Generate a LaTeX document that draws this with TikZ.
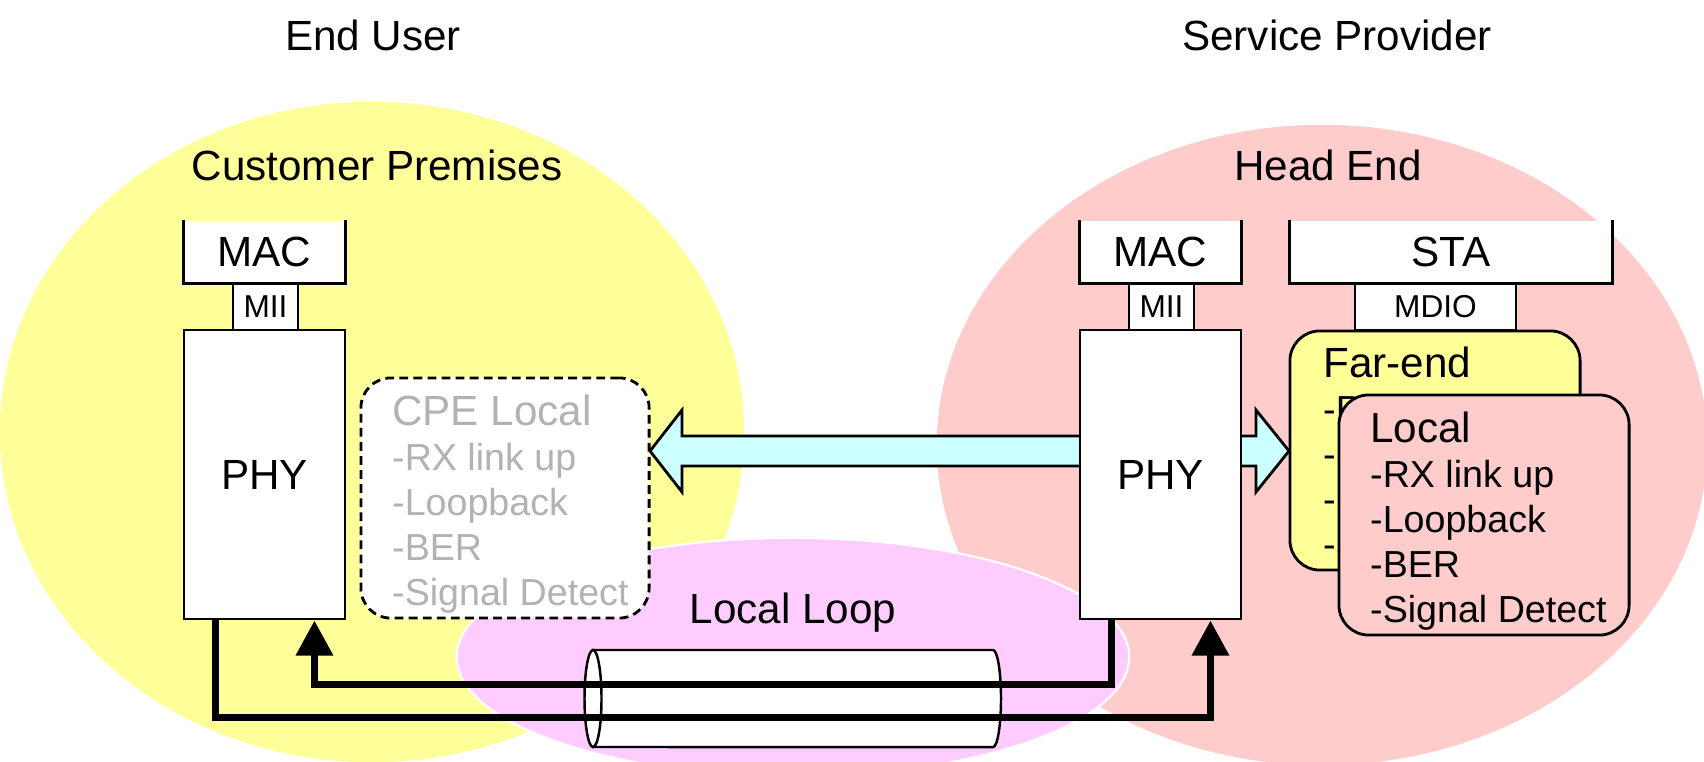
\documentclass[tikz,border=0pt]{standalone}
\usepackage{fontspec}
\setmainfont{Liberation Sans}
\usetikzlibrary{arrows.meta,calc}

\definecolor{premyellow}{HTML}{FFFF99}
\definecolor{headpink}{HTML}{FFCCCC}
\definecolor{looppink}{HTML}{FFCCFF}
\definecolor{linkcyan}{HTML}{CCFFFF}
\definecolor{greytext}{HTML}{B2B2B2}

\begin{document}
\begin{tikzpicture}[x=0.01cm,y=-0.01cm,
    blk/.style={draw,fill=white,line width=0.8pt,inner sep=0pt,font=\fontsize{12}{14}\selectfont},
    topblk/.style={fill=white,inner sep=0pt,font=\fontsize{12}{14}\selectfont},
    smallblk/.style={blk,font=\fontsize{9}{11}\selectfont},
    card/.style={draw,line width=0.8pt,rounded corners=8.5pt,inner sep=0pt},
    cardtext/.style={anchor=north west,inner sep=0pt,align=left,font=\fontsize{10.7}{12.8}\selectfont},
    heading/.style={inner sep=0pt,font=\fontsize{12}{14}\selectfont},
    wire/.style={line width=2.1pt},
    tip/.style={-{Triangle[length=10pt,width=10.2pt]}}]

  \useasboundingbox (0,0) rectangle (1704,761);
  \fill[white] (0,0) rectangle (1704,761);

  % the two sites and the loop between them
  \fill[premyellow] (372,432) ellipse [x radius=3.72cm, y radius=3.30cm];
  \fill[headpink] (1322,445) ellipse [x radius=3.85cm, y radius=3.20cm];
  \filldraw[fill=looppink,draw=white,line width=0.6pt] (793,657) ellipse [x radius=3.36cm, y radius=1.19cm];

  \node[heading] (enduser) at (373,35) {End User};
  \node[heading] (provider) at (1337,35) {Service Provider};
  \node[heading] (premises) at (377,165) {Customer Premises};
  \node[heading] (headend) at (1328,165) {Head End};
  \node[heading] (looplbl) at (793,613) {Local Loop};

  % status path from the head end PHY
  \filldraw[fill=linkcyan,line width=0.8pt] (650,451) -- (682,410) -- (682,436) -- (1256,436)
    -- (1256,410) -- (1289,451) -- (1256,492) -- (1256,466) -- (682,466) -- (682,492) -- cycle;

  % customer side stack
  \node[topblk,minimum width=1.61cm,minimum height=0.62cm] (macL) at (264.5,252) {MAC};
  \node[smallblk,minimum width=0.65cm,minimum height=0.47cm] (miiL) at (265.5,306.5) {MII};
  \node[blk,minimum width=1.61cm,minimum height=2.89cm] (phyL) at (264.5,474.5) {PHY};

  % head end stack
  \node[topblk,minimum width=1.61cm,minimum height=0.62cm] (macR) at (1160.5,252) {MAC};
  \node[smallblk,minimum width=0.65cm,minimum height=0.47cm] (miiR) at (1161.5,306.5) {MII};
  \node[blk,minimum width=1.61cm,minimum height=2.89cm] (phyR) at (1160.5,474.5) {PHY};
  \node[topblk,minimum width=3.22cm,minimum height=0.62cm] (sta) at (1451,252) {STA};
  \node[smallblk,minimum width=1.61cm,minimum height=0.47cm] (mdio) at (1435.5,306.5) {MDIO};

  \foreach \n in {macL,macR,sta}
    \draw[line width=0.8pt] (\n.north west) |- (\n.south east) -- (\n.north east);

  % status registers
  \node[card,dashed,dash pattern=on 2.5pt off 1.5pt,fill=white,minimum width=2.88cm,minimum height=2.40cm] (cpe) at (505,498) {};
  \node[cardtext,text=greytext] (cpetxt) at ($(cpe.north west)+(32,18)$)
    {{\fontsize{12}{12.8}\selectfont CPE Local}\\-RX link up\\-Loopback\\-BER\\-Signal Detect};

  \node[card,fill=premyellow,minimum width=2.90cm,minimum height=2.39cm] (farend) at (1435,450.5) {};
  \node[cardtext] (farendtxt) at ($(farend.north west)+(34,17)$)
    {{\fontsize{12}{12.8}\selectfont Far-end}\\-RX link up\\-Loopback\\-BER\\-Signal Detect};

  \node[card,fill=headpink,minimum width=2.90cm,minimum height=2.40cm] (local) at (1484,515) {};
  \node[cardtext] (localtxt) at ($(local.north west)+(32,18)$)
    {{\fontsize{12}{12.8}\selectfont Local}\\-RX link up\\-Loopback\\-BER\\-Signal Detect};

  % cable
  \draw[line width=0.7pt,fill=white] (593,650) -- (993,650)
    arc[start angle=90,end angle=-90,x radius=0.08cm,y radius=0.485cm] -- (593,747) -- cycle;
  \draw[line width=0.7pt,fill=white] (593,698.5) ellipse [x radius=0.085cm, y radius=0.485cm];

  % wire pairs
  \draw[wire,tip] ($(phyL.south west)+(33,0)$) -- ++(0,97) -| ($(phyR.south east)+(-32,0)$);
  \draw[wire,tip] ($(phyR.south west)+(33,0)$) -- ++(0,64) -| ($(phyL.south east)+(-32,0)$);

\end{tikzpicture}
\end{document}
